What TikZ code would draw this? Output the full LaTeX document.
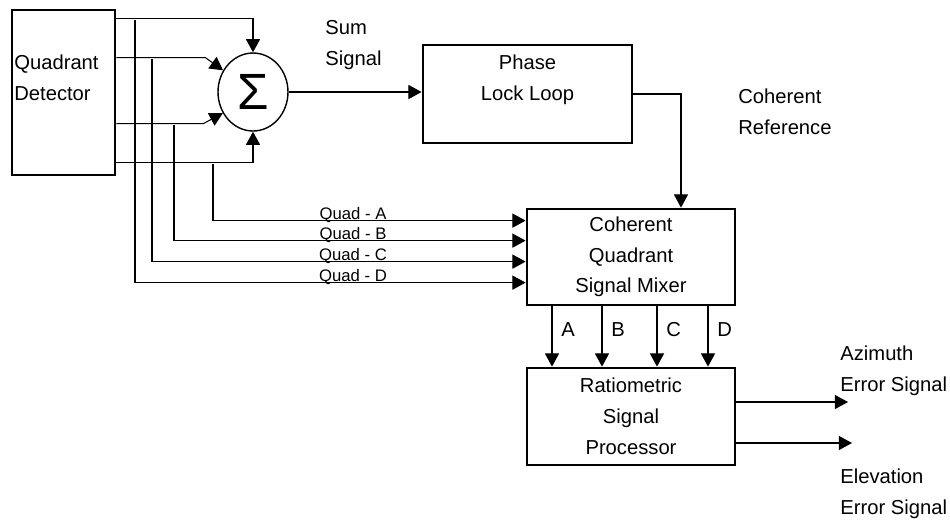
\documentclass[tikz,border=0pt]{standalone}
\usepackage{fontspec}
\setmainfont{Liberation Sans}
\usetikzlibrary{arrows.meta}
\usetikzlibrary{shapes.geometric}

\begin{document}
\begin{tikzpicture}[x=0.02cm, y=-0.02cm,
  box/.style={draw, black, line width=1.6pt, inner sep=0pt, align=center,
    font=\fontsize{11.5}{17.5}\selectfont},
  wire/.style={black, line width=0.6pt},
  tip/.style={-{Triangle[length=7.5pt,width=8pt]}},
  txt/.style={font=\fontsize{11.5}{17.5}\selectfont, inner sep=0pt, align=center},
  lbl/.style={font=\fontsize{9.5}{11}\selectfont, inner sep=0pt, anchor=base}]

\useasboundingbox (0,0) rectangle (950,529);

\node[box, minimum width=2.06cm, minimum height=3.3cm] (QD) at (63.5,92.5) {};
\node[ellipse, draw, black, line width=0.8pt, inner sep=0pt,
  minimum width=1.4cm, minimum height=1.56cm] (SUM) at (253,92) {\fontsize{29}{29}\selectfont Σ};
\node[box, minimum width=4.18cm, minimum height=1.96cm] (PLL) at (527.5,94) {};
\node[box, minimum width=4.16cm, minimum height=1.92cm] (CQM) at (631,257) {Coherent\\Quadrant\\Signal Mixer};
\node[box, minimum width=4.16cm, minimum height=1.94cm] (RSP) at (631,416.5) {Ratiometric\\Signal\\Processor};

\node[txt, align=left, anchor=west] (QDT) at (14,77.5) {Quadrant\\Detector};
\node[txt] (PLLT) at (527.5,80) {Phase\\Lock Loop};
\node[txt, align=left, anchor=west] (SST) at (325,45) {Sum\\Signal};
\node[txt, align=left, anchor=west] (CRT) at (738,112) {Coherent\\Reference};
\node[txt, align=left, anchor=west] (AZT) at (840,371) {Azimuth\\Error Signal};
\node[txt, align=left, anchor=west] (ELT) at (840,494) {Elevation\\Error Signal};

% detector outputs
\path (QD.north east) ++(0,10) coordinate (O1);
\path (QD.north east) ++(0,49) coordinate (O2);
\path (QD.north east) ++(0,115) coordinate (O3);
\path (QD.north east) ++(0,154) coordinate (O4);

% mixer inputs
\path (CQM.north west) ++(0,13) coordinate (MA);
\path (CQM.north west) ++(0,33) coordinate (MB);
\path (CQM.north west) ++(0,54) coordinate (MC);
\path (CQM.north west) ++(0,75) coordinate (MD);

\coordinate (J1) at (135,20);
\coordinate (J2) at (152,59);
\coordinate (J3) at (174,125);
\coordinate (J4) at (213,164);

\draw[wire,tip] (O1) -| (SUM.north);
\draw[wire,tip] (O2) -- ++(89,0) -- (SUM.144);
\draw[wire,tip] (O3) -- ++(87,0) -- (SUM.215);
\draw[wire,tip] (O4) -| (SUM.south);

\draw[wire,tip] (J4) |- (MA);
\draw[wire,tip] (J3) |- (MB);
\draw[wire,tip] (J2) |- (MC);
\draw[wire,tip] (J1) |- (MD);

\node[lbl] (LA) at (353,219) {Quad - A};
\node[lbl] (LB) at (353,239) {Quad - B};
\node[lbl] (LC) at (353,260) {Quad - C};
\node[lbl] (LD) at (353,281) {Quad - D};

\draw[wire,tip] (SUM.east) -- (SUM.east -| PLL.west);
\draw[wire,tip] (PLL.east) -| ([xshift=1cm]CQM.north);

\foreach \dx/\L in {-79/A,-29/B,26/C,77/D}
  \draw[wire,tip] ([xshift=\dx*0.02cm]CQM.south) -- ([xshift=\dx*0.02cm]RSP.north)
    node[txt, anchor=west, xshift=5pt, pos=0.38] {\L};

\coordinate (AZ) at (848,402);
\coordinate (EL) at (852,443);
\draw[wire,tip] (RSP.east |- AZ) -- (AZ);
\draw[wire,tip] (RSP.east |- EL) -- (EL);

\end{tikzpicture}
\end{document}
